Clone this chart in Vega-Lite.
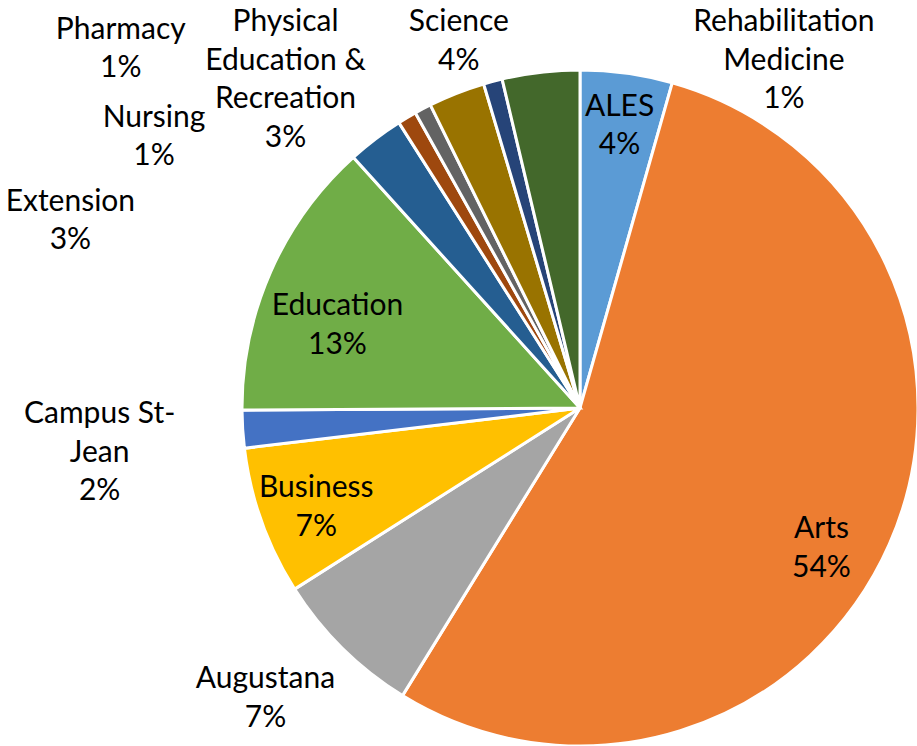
{
  "$schema": "https://vega.github.io/schema/vega-lite/v6.json",
  "width": 676,
  "height": 676,
  "padding": {"left": 242, "top": 70, "right": 0, "bottom": 0},
  "autosize": {"type": "none"},
  "background": "white",
  "config": {
    "view": {"stroke": null},
    "text": {"font": "Lato", "fontSize": 30, "lineHeight": 38.5, "lineBreak": "\n", "align": "center", "baseline": "middle", "color": "#000000"}
  },
  "data": {
    "values": [
      {"name": "ALES", "label": "ALES", "value": 4.4},
      {"name": "Arts", "label": "Arts", "value": 54.4},
      {"name": "Augustana", "label": "Augustana", "value": 7.2},
      {"name": "Business", "label": "Business", "value": 7.1},
      {"name": "Campus St-Jean", "label": "Campus St-\nJean", "value": 1.8},
      {"name": "Education", "label": "Education", "value": 13.4},
      {"name": "Extension", "label": "Extension", "value": 2.7},
      {"name": "Nursing", "label": "Nursing", "value": 0.9},
      {"name": "Pharmacy", "label": "Pharmacy", "value": 0.8},
      {"name": "Physical Education & Recreation", "label": "Physical\nEducation &\nRecreation", "value": 2.7},
      {"name": "Rehabilitation Medicine", "label": "Rehabilitation\nMedicine", "value": 0.9},
      {"name": "Science", "label": "Science", "value": 3.7}
    ]
  },
  "transform": [
    {"joinaggregate": [{"op": "sum", "field": "value", "as": "total"}]},
    {"window": [{"op": "sum", "field": "value", "as": "cumEnd"}], "sort": [{"field": "name"}], "frame": [null, 0]},
    {"calculate": "datum.cumEnd / datum.total", "as": "fEnd"},
    {"calculate": "(datum.cumEnd - datum.value) / datum.total", "as": "fStart"},
    {"calculate": "(datum.cumEnd - datum.value / 2) / datum.total", "as": "fMid"},
    {"calculate": "datum.label + '\\n' + format(datum.value / datum.total, '.0%')", "as": "txt"}
  ],
  "layer": [
    {
      "mark": {"type": "arc", "stroke": "white", "strokeWidth": 3},
      "encoding": {
        "theta": {"field": "fStart", "type": "quantitative", "stack": null, "scale": {"domain": [0, 1], "nice": false, "zero": true}},
        "theta2": {"field": "fEnd"},
        "color": {
          "field": "name", "type": "nominal", "legend": null,
          "scale": {
            "domain": ["ALES", "Arts", "Augustana", "Business", "Campus St-Jean", "Education", "Extension", "Nursing", "Pharmacy", "Physical Education & Recreation", "Rehabilitation Medicine", "Science"],
            "range": ["#5B9BD5", "#ED7D31", "#A5A5A5", "#FFC000", "#4472C4", "#70AD47", "#255E91", "#9E480E", "#636363", "#997300", "#264478", "#43682B"]
          }
        }
      }
    },
    {
      "transform": [{"filter": {"field": "name", "equal": "ALES"}}],
      "mark": {"type": "text", "radius": 287, "dy": -17},
      "encoding": {"theta": {"field": "fMid", "type": "quantitative", "stack": null}, "text": {"field": "txt"}}
    },
    {
      "transform": [{"filter": {"field": "name", "equal": "Arts"}}],
      "mark": {"type": "text", "radius": 278, "dx": -13, "dy": 9},
      "encoding": {"theta": {"field": "fMid", "type": "quantitative", "stack": null}, "text": {"field": "txt"}}
    },
    {
      "transform": [{"filter": {"field": "name", "equal": "Business"}}],
      "mark": {"type": "text", "radius": 280, "dy": -14},
      "encoding": {"theta": {"field": "fMid", "type": "quantitative", "stack": null}, "text": {"field": "txt"}}
    },
    {
      "transform": [{"filter": {"field": "name", "equal": "Education"}}],
      "mark": {"type": "text", "radius": 265, "dy": 5},
      "encoding": {"theta": {"field": "fMid", "type": "quantitative", "stack": null}, "text": {"field": "txt"}}
    },
    {
      "transform": [{"filter": {"field": "name", "equal": "Augustana"}}],
      "mark": {"type": "text", "radius": 338, "dx": -77, "dy": 31},
      "encoding": {"theta": {"field": "fMid", "type": "quantitative", "stack": null}, "text": {"field": "txt"}}
    },
    {
      "transform": [{"filter": {"field": "name", "equal": "Campus St-Jean"}}],
      "mark": {"type": "text", "radius": 338, "dx": -143, "dy": -15},
      "encoding": {"theta": {"field": "fMid", "type": "quantitative", "stack": null}, "text": {"field": "txt"}}
    },
    {
      "transform": [{"filter": {"field": "name", "equal": "Extension"}}],
      "mark": {"type": "text", "radius": 338, "dx": -305, "dy": 63},
      "encoding": {"theta": {"field": "fMid", "type": "quantitative", "stack": null}, "text": {"field": "txt"}}
    },
    {
      "transform": [{"filter": {"field": "name", "equal": "Nursing"}}],
      "mark": {"type": "text", "radius": 338, "dx": -253, "dy": 0},
      "encoding": {"theta": {"field": "fMid", "type": "quantitative", "stack": null}, "text": {"field": "txt"}}
    },
    {
      "transform": [{"filter": {"field": "name", "equal": "Pharmacy"}}],
      "mark": {"type": "text", "radius": 338, "dx": -302, "dy": -79},
      "encoding": {"theta": {"field": "fMid", "type": "quantitative", "stack": null}, "text": {"field": "txt"}}
    },
    {
      "transform": [{"filter": {"field": "name", "equal": "Physical Education & Recreation"}}],
      "mark": {"type": "text", "radius": 338, "dx": -171, "dy": -71},
      "encoding": {"theta": {"field": "fMid", "type": "quantitative", "stack": null}, "text": {"field": "txt"}}
    },
    {
      "transform": [{"filter": {"field": "name", "equal": "Rehabilitation Medicine"}}],
      "mark": {"type": "text", "radius": 338, "dx": 291, "dy": -59},
      "encoding": {"theta": {"field": "fMid", "type": "quantitative", "stack": null}, "text": {"field": "txt"}}
    },
    {
      "transform": [{"filter": {"field": "name", "equal": "Science"}}],
      "mark": {"type": "text", "radius": 338, "dx": -82, "dy": -50},
      "encoding": {"theta": {"field": "fMid", "type": "quantitative", "stack": null}, "text": {"field": "txt"}}
    }
  ]
}
